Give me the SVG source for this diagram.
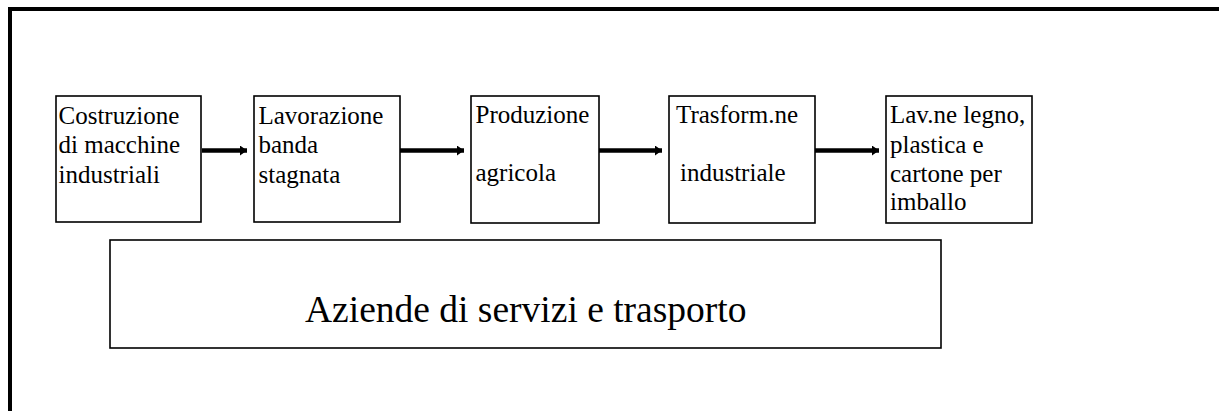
<svg xmlns="http://www.w3.org/2000/svg" width="1219" height="411" viewBox="0 0 1219 411">
<style>
.frame{fill:none;stroke:#000;stroke-width:4}
.box{fill:#fff;stroke:#000;stroke-width:1.6}
.t{font-family:"Liberation Serif","Times New Roman",serif;font-size:25px;fill:#000}
.big{font-family:"Liberation Serif","Times New Roman",serif;font-size:37.5px;fill:#000}
.conn{stroke:#000;stroke-width:4.5;fill:none}
</style>
<defs>
<marker id="ah" markerWidth="8" markerHeight="10" refX="7" refY="5" orient="auto" markerUnits="userSpaceOnUse">
<path d="M0,0 L7,5 L0,10 Z" fill="#000"/>
</marker>
</defs>
<path class="frame" d="M10,420 L10,9 L1230,9"/>
<g id="connectors">
<line class="conn" x1="202" y1="150.5" x2="247" y2="150.5" marker-end="url(#ah)"/>
<line class="conn" x1="400" y1="150.5" x2="464" y2="150.5" marker-end="url(#ah)"/>
<line class="conn" x1="599" y1="150.5" x2="662" y2="150.5" marker-end="url(#ah)"/>
<line class="conn" x1="815" y1="150.5" x2="879" y2="150.5" marker-end="url(#ah)"/>
</g>
<g id="node1">
<rect class="box" x="56" y="96" width="145" height="126"/>
<text class="t" x="58.5" y="123.5">Costruzione</text>
<text class="t" x="58.5" y="153">di macchine</text>
<text class="t" x="58.5" y="182.5">industriali</text>
</g>
<g id="node2">
<rect class="box" x="254" y="96" width="146" height="126"/>
<text class="t" x="258.5" y="123.5">Lavorazione</text>
<text class="t" x="258.5" y="153">banda</text>
<text class="t" x="258.5" y="182.5">stagnata</text>
</g>
<g id="node3">
<rect class="box" x="471" y="96" width="128" height="127"/>
<text class="t" x="475.5" y="123">Produzione</text>
<text class="t" x="475.5" y="180.5">agricola</text>
</g>
<g id="node4">
<rect class="box" x="669" y="96" width="146" height="127"/>
<text class="t" x="676" y="123">Trasform.ne</text>
<text class="t" x="680" y="180.5">industriale</text>
</g>
<g id="node5">
<rect class="box" x="886" y="96" width="146" height="127"/>
<text class="t" x="890" y="123">Lav.ne legno,</text>
<text class="t" x="890" y="153">plastica e</text>
<text class="t" x="890" y="181.5">cartone per</text>
<text class="t" x="890" y="210">imballo</text>
</g>
<g id="node6">
<rect class="box" x="110" y="240" width="831" height="108"/>
<text class="big" x="305" y="322">Aziende di servizi e trasporto</text>
</g>
</svg>
